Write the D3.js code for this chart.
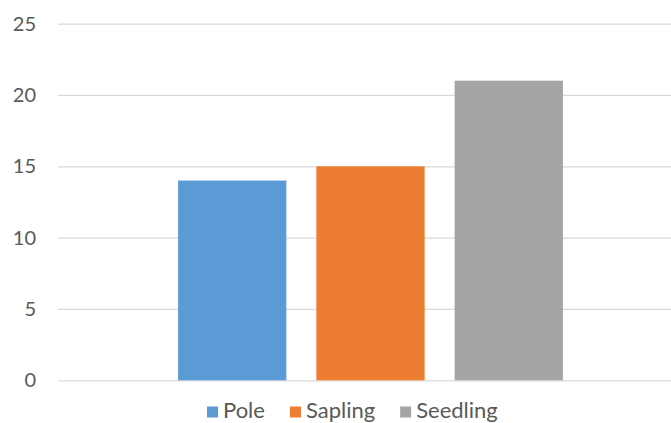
<!DOCTYPE html>
<html>
<head>
<meta charset="utf-8">
<script src="https://cdn.jsdelivr.net/npm/d3@7/dist/d3.min.js"></script>
<style>
  html, body { margin: 0; padding: 0; background: #ffffff; }
  svg { display: block; }
  text { font-family: Lato, "Open Sans", sans-serif; fill: #595959; }
</style>
</head>
<body>
<svg id="chart" width="671" height="423"></svg>
<script>
// Tree stage counts
const categories = ["Pole", "Sapling", "Seedling"];
const values = [14, 15, 21];
const colors = ["#5b9bd5", "#ed7d31", "#a5a5a5"];
const yTicks = [0, 5, 10, 15, 20, 25];

const W = 671, H = 423;
const plot = { left: 58, right: 683, top: 23.6, bottom: 380.3 };

const svg = d3.select("#chart");

const y = d3.scaleLinear().domain([0, 25]).range([plot.bottom, plot.top]);

// one group holding the three series side by side
const outer = d3.scaleBand().domain(["all"]).range([plot.left, plot.right])
  .paddingInner(0).paddingOuter(0.312);
const inner = d3.scaleBand().domain(categories)
  .range([outer("all"), outer("all") + outer.bandwidth()])
  .paddingInner(0.217).paddingOuter(0);

// horizontal gridlines with value labels
const yAxis = d3.axisLeft(y).tickValues(yTicks).tickSize(-(W - plot.left)).tickPadding(22);
const gy = svg.append("g").attr("transform", `translate(${plot.left},0)`).call(yAxis);
gy.select(".domain").remove();
gy.selectAll(".tick line").attr("stroke", "#d9d9d9").attr("stroke-width", 1.2);
gy.selectAll(".tick text")
  .attr("font-size", 20)
  .attr("fill", "#595959")
  .attr("font-family", "Lato, 'Open Sans', sans-serif");

// bars
svg.append("g").selectAll("rect")
  .data(categories)
  .join("rect")
  .attr("x", d => inner(d))
  .attr("width", inner.bandwidth())
  .attr("y", (d, i) => y(values[i]))
  .attr("height", (d, i) => y(0) - y(values[i]))
  .attr("fill", (d, i) => colors[i]);

// legend along the bottom
const legend = svg.append("g").attr("transform", "translate(207,0)");
let lx = 0;
categories.forEach((c, i) => {
  const item = legend.append("g").attr("transform", `translate(${lx},0)`);
  item.append("rect").attr("x", 0).attr("y", 406.5).attr("width", 11).attr("height", 11)
    .attr("fill", colors[i]);
  const t = item.append("text").attr("x", 16).attr("y", 418)
    .attr("font-size", 22).text(c);
  lx += 16 + t.node().getComputedTextLength() + 25;
});
</script>
</body>
</html>
